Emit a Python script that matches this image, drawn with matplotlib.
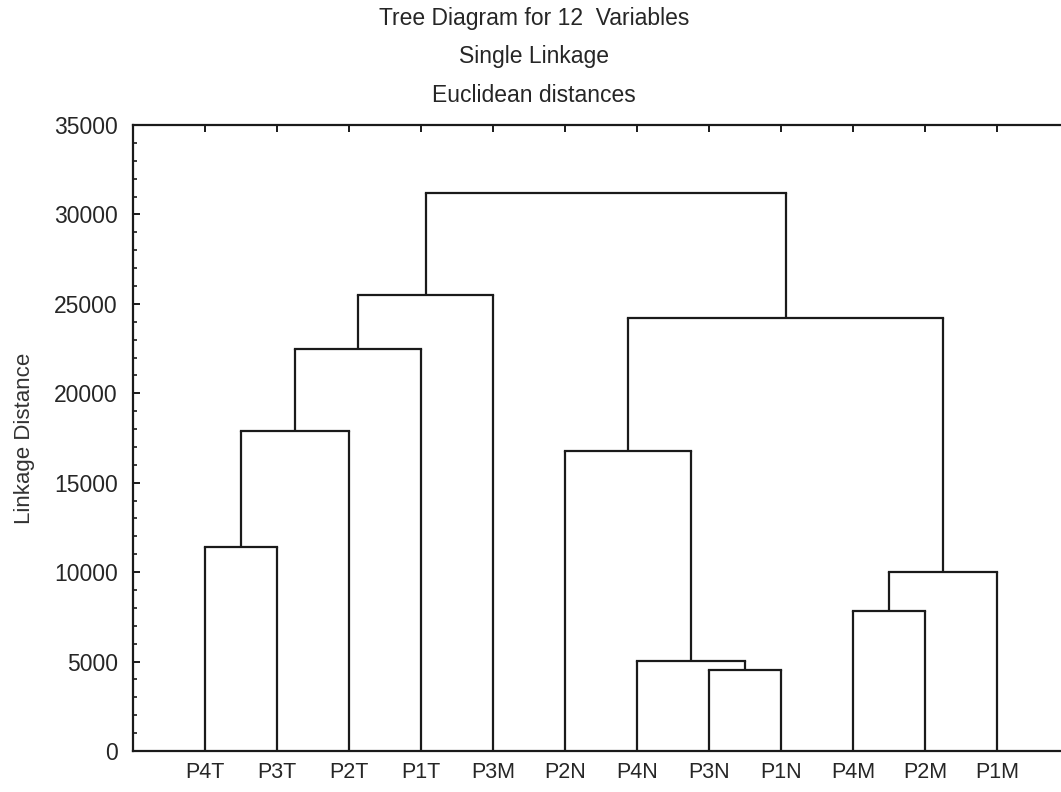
import matplotlib
matplotlib.use('Agg')
import matplotlib.pyplot as plt
from matplotlib.ticker import MultipleLocator

plt.rcParams['font.family'] = ['Liberation Sans', 'DejaVu Sans']

leaves = ['P4T', 'P3T', 'P2T', 'P1T', 'P3M', 'P2N', 'P4N', 'P3N', 'P1N', 'P4M', 'P2M', 'P1M']
# merges M1..M11 in order: (left child, right child, linkage distance)
merge_a = ['P4T', 'M1', 'M2', 'M3', 'P3N', 'P4N', 'P2N', 'P4M', 'M8', 'M7', 'M4']
merge_b = ['P3T', 'P2T', 'P1T', 'P3M', 'P1N', 'M5', 'M6', 'P2M', 'P1M', 'M9', 'M10']
merge_h = [11400, 17900, 22450, 25500, 4550, 5050, 16800, 7800, 10000, 24200, 31200]

W, H = 1061, 792
fig = plt.figure(figsize=(W / 100, H / 100), dpi=100)
ax = fig.add_axes([133 / W, (H - 751) / H, (1069 - 133) / W, (751 - 125) / H])

col = '#1a1a1a'
txt = '#262626'
lw = 1.6
xpos = {name: i + 1 for i, name in enumerate(leaves)}
ypos = {name: 0.0 for name in leaves}
for k, (a, b, h) in enumerate(zip(merge_a, merge_b, merge_h)):
    xa, xb = xpos[a], xpos[b]
    ax.plot([xa, xa], [ypos[a], h], color=col, lw=lw, solid_capstyle='butt')
    ax.plot([xb, xb], [ypos[b], h], color=col, lw=lw, solid_capstyle='butt')
    ax.plot([xa, xb], [h, h], color=col, lw=lw, solid_capstyle='projecting')
    name = 'M%d' % (k + 1)
    xpos[name] = (xa + xb) / 2
    ypos[name] = h

ax.set_xlim(0, 13)
ax.set_ylim(0, 35000)
ax.set_xticks(range(1, 13))
ax.set_xticklabels(leaves)
ax.yaxis.set_major_locator(MultipleLocator(5000))
ax.yaxis.set_minor_locator(MultipleLocator(1000))
ax.tick_params(axis='y', which='major', direction='in', length=5, width=1.4,
               labelsize=16.5, pad=11, color=col, labelcolor=txt, right=False)
ax.tick_params(axis='y', which='minor', direction='in', length=3, width=1.2, color=col)
ax.tick_params(axis='x', which='major', direction='in', length=5, width=1.4,
               labelsize=15.5, pad=8, color=col, labelcolor=txt, top=True)
for s in ax.spines.values():
    s.set_linewidth(1.6)
    s.set_color(col)

ax.set_ylabel('Linkage Distance', fontsize=16, color='#333333', labelpad=14)

fig.text(534 / W, 1 - 18 / H, 'Tree Diagram for 12  Variables', ha='center', va='center',
         fontsize=16.5, color=txt)
fig.text(534 / W, 1 - 57 / H, 'Single Linkage', ha='center', va='center',
         fontsize=16.5, color=txt)
fig.text(534 / W, 1 - 95 / H, 'Euclidean distances', ha='center', va='center',
         fontsize=16.5, color=txt)

fig.savefig('out.png', dpi=100)
